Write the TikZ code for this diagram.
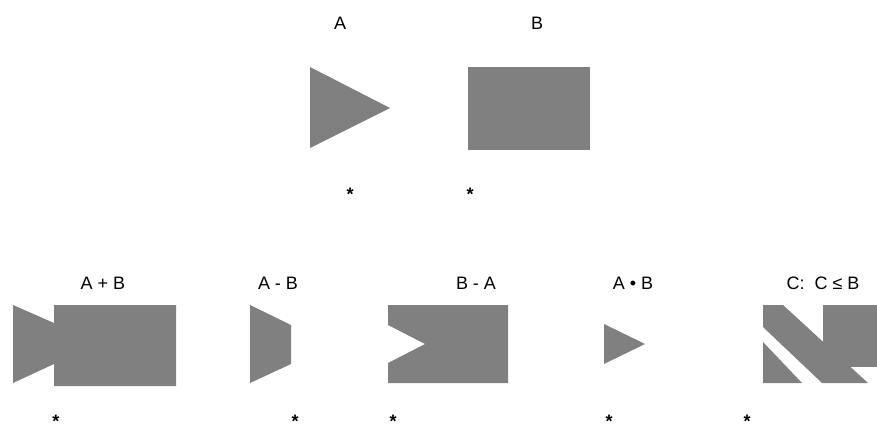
\documentclass[tikz,border=0pt]{standalone}
\usepackage{fontspec}
\setmainfont{Liberation Sans}
\begin{document}
\begin{tikzpicture}[x=1pt, y=-1pt]
        % --- Styles ---
        \tikzset{
            region/.style={fill=gray, draw=none},
            setlabel/.style={font=\fontsize{18}{21}\selectfont, anchor=base, inner sep=0pt},
            marker/.style={font=\bfseries\fontsize{18}{21}\selectfont, anchor=base, inner sep=0pt}
        }
        \useasboundingbox (0,0) rectangle (877,428);

        % =====================================================
        % Ligne du haut : A et B
        % =====================================================
        \node[setlabel] (labA) at (340,30) {A};
        \node[setlabel] (labB) at (537,30) {B};

        \fill[region] (310,67) -- (390,108) -- (310,148) -- cycle;
        \fill[region] (468,67) rectangle (590,150);

        \node[marker] (starA) at (350,200) {*};
        \node[marker] (starB) at (470,200) {*};

        % =====================================================
        % Ligne du bas : opérations
        % =====================================================
        \node[setlabel] (labUnion) at (103,289) {A + B};
        \node[setlabel] (labAmB)   at (278,289) {A - B};
        \node[setlabel] (labBmA)   at (476,289) {B - A};
        \node[setlabel] (labInter) at (633,289) {A • B};
        \node[setlabel] (labSub)   at (823,289) {C:\ \ C ≤ B};

        % A + B
        \fill[region] (13,305) -- (54,323) -- (54,305) -- (176,305) -- (176,386)
            -- (54,386) -- (54,364) -- (13,383) -- cycle;
        % A - B
        \fill[region] (250,305) -- (291,325) -- (291,364) -- (250,383) -- cycle;
        % B - A
        \fill[region] (388,305) -- (508,305) -- (508,383) -- (388,383)
            -- (388,363) -- (425,344) -- (388,325) -- cycle;
        % A . B
        \fill[region] (604,324) -- (645,344) -- (604,364) -- cycle;
        % C sous-ensemble de B
        \fill[region] (763,305) -- (783,305) -- (868,383) -- (822,383) -- (763,327) -- cycle;
        \fill[region] (763,342) -- (763,383) -- (802,383) -- cycle;
        \fill[region] (823,305) rectangle (877,367);

        \foreach \sx/\nm in {56/s1, 295/s2, 393/s3, 609/s4, 747/s5} {
            \node[marker] (\nm) at (\sx,427) {*};
        }
\end{tikzpicture}
\end{document}
